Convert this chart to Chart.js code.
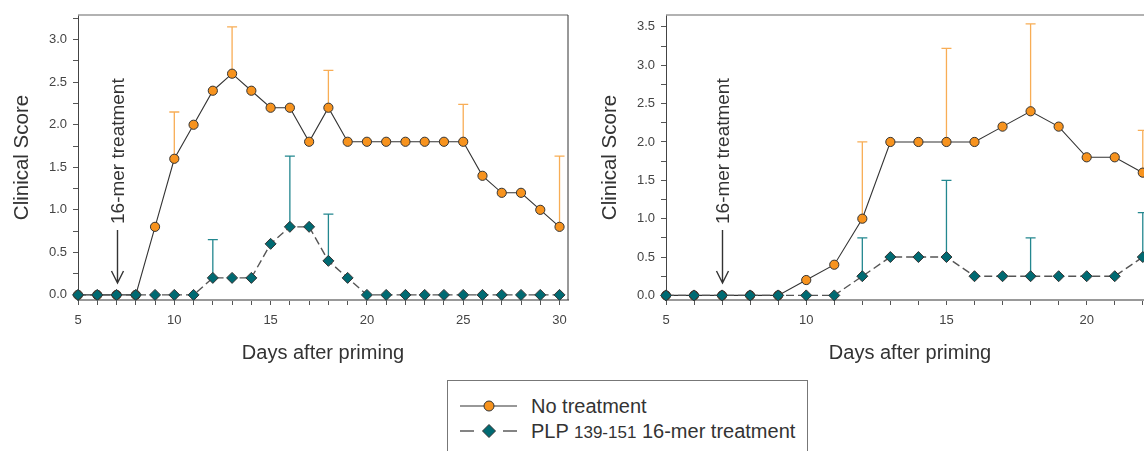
<!DOCTYPE html>
<html>
<head>
<meta charset="utf-8">
<script src="https://cdn.jsdelivr.net/npm/chart.js@4/dist/chart.umd.min.js"></script>
<style>
  html, body { margin: 0; padding: 0; background: #fff; overflow: hidden; width: 1144px; height: 451px; }
  canvas { position: absolute; top: 0; }
  #left { left: 0; }
  #right { left: 588px; }
  #legend {
    position: absolute; left: 447px; top: 380px; width: 361px; height: 90px;
    border: 1px solid #777; box-sizing: border-box;
    font-family: 'Liberation Sans', Arial, sans-serif; color: #333;
  }
  .row { position: absolute; left: 0; height: 24px; }
  .row svg { position: absolute; left: 12px; top: 0; }
  .row span { position: absolute; left: 83px; top: 0; font-size: 20px; line-height: 24px; white-space: nowrap; }
  .row small { font-size: 17px; }
</style>
</head>
<body>
<canvas id="left" width="600" height="380"></canvas>
<canvas id="right" width="600" height="380"></canvas>
<div id="legend">
  <div class="row" style="top:13px">
    <svg width="60" height="24"><line x1="0" y1="12" x2="57" y2="12" stroke="#333" stroke-width="1.2"/><circle cx="29" cy="12" r="5" fill="#f7931e" stroke="#333" stroke-width="1"/></svg>
    <span>No treatment</span>
  </div>
  <div class="row" style="top:38px">
    <svg width="60" height="24"><line x1="0" y1="12" x2="14" y2="12" stroke="#333" stroke-width="1.2"/><line x1="43" y1="12" x2="57" y2="12" stroke="#333" stroke-width="1.2"/><polygon points="29,5.5 35.5,12 29,18.5 22.5,12" fill="#006a72" stroke="#333" stroke-width="1"/></svg>
    <span>PLP <small>139-151</small> 16-mer treatment</span>
  </div>
</div>
<script>
// left panel, days 5-30
const daysLeft = [5, 6, 7, 8, 9, 10, 11, 12, 13, 14, 15, 16, 17, 18, 19, 20, 21, 22, 23, 24, 25, 26, 27, 28, 29, 30];
const noTreatLeft = [0, 0, 0, 0, 0.8, 1.6, 2.0, 2.4, 2.6, 2.4, 2.2, 2.2, 1.8, 2.2, 1.8, 1.8, 1.8, 1.8, 1.8, 1.8, 1.8, 1.4, 1.2, 1.2, 1.0, 0.8];
const noTreatLeftErr = [null, null, null, null, null, 2.15, null, null, 3.15, null, null, null, null, 2.64, null, null, null, null, null, null, 2.24, null, null, null, null, 1.63];
const plpLeft = [0, 0, 0, 0, 0, 0, 0, 0.2, 0.2, 0.2, 0.6, 0.8, 0.8, 0.4, 0.2, 0, 0, 0, 0, 0, 0, 0, 0, 0, 0, 0];
const plpLeftErr = [null, null, null, null, null, null, null, 0.65, null, null, null, 1.63, null, 0.95, null, null, null, null, null, null, null, null, null, null, null, null];

// right panel, days 5-22 (rest is cut off)
const daysRight = [5, 6, 7, 8, 9, 10, 11, 12, 13, 14, 15, 16, 17, 18, 19, 20, 21, 22];
const noTreatRight = [0, 0, 0, 0, 0, 0.2, 0.4, 1.0, 2.0, 2.0, 2.0, 2.0, 2.2, 2.4, 2.2, 1.8, 1.8, 1.6];
const noTreatRightErr = [null, null, null, null, null, null, null, 2.0, null, null, 3.22, null, null, 3.54, null, null, null, 2.15];
const plpRight = [0, 0, 0, 0, 0, 0, 0, 0.25, 0.5, 0.5, 0.5, 0.25, 0.25, 0.25, 0.25, 0.25, 0.25, 0.5];
const plpRightErr = [null, null, null, null, null, null, null, 0.75, null, null, 1.5, null, null, 0.75, null, null, null, 1.08];

const treatmentDay = 7;

Chart.defaults.font.family = "'Liberation Sans', Arial, Helvetica, sans-serif";
Chart.defaults.color = '#444';

const ORANGE = '#f7931e';
const ORANGE_ERR = '#f8ad55';
const TEAL = '#006a72';
const TEAL_ERR = '#23878f';

const errorBars = {
  id: 'errorBars',
  beforeDatasetsDraw(chart) {
    const { ctx } = chart;
    const y = chart.scales.y;
    chart.data.datasets.forEach((ds, i) => {
      if (!ds.errTop) return;
      const meta = chart.getDatasetMeta(i);
      ctx.save();
      ctx.strokeStyle = ds.errColor;
      ctx.lineWidth = 1.3;
      meta.data.forEach((pt, j) => {
        const e = ds.errTop[j];
        if (e == null) return;
        const top = y.getPixelForValue(e);
        ctx.beginPath();
        ctx.moveTo(pt.x, pt.y);
        ctx.lineTo(pt.x, top);
        ctx.moveTo(pt.x - 5, top);
        ctx.lineTo(pt.x + 5, top);
        ctx.stroke();
      });
      ctx.restore();
    });
  }
};

const frameAndNote = {
  id: 'frameAndNote',
  afterDraw(chart) {
    const { ctx, chartArea: a } = chart;
    ctx.save();
    ctx.strokeStyle = '#999';
    ctx.lineWidth = 1.5;
    ctx.beginPath();
    ctx.moveTo(a.left, a.top);
    ctx.lineTo(a.right, a.top);
    ctx.stroke();
    ctx.strokeStyle = '#333';
    ctx.lineWidth = 1;
    ctx.beginPath();
    ctx.moveTo(a.right, a.top);
    ctx.lineTo(a.right, a.bottom);
    ctx.stroke();

    // treatment arrow + rotated label
    const x = Math.round(chart.scales.x.getPixelForValue(treatmentDay)) + 0.5;
    const tip = a.bottom - 17;
    ctx.strokeStyle = '#333';
    ctx.lineWidth = 1.4;
    ctx.beginPath();
    ctx.moveTo(x, a.bottom - 70);
    ctx.lineTo(x, tip);
    ctx.moveTo(x - 6, tip - 12);
    ctx.lineTo(x, tip);
    ctx.lineTo(x + 6, tip - 12);
    ctx.stroke();

    ctx.translate(x + 1, a.bottom - 76);
    ctx.rotate(-Math.PI / 2);
    ctx.fillStyle = '#333';
    ctx.font = "19px 'Liberation Sans', Arial, sans-serif";
    ctx.textAlign = 'left';
    ctx.textBaseline = 'middle';
    ctx.fillText('16-mer treatment', 0, 0);
    ctx.restore();
  }
};

function makePanel(id, days, noTreat, noTreatErr, plp, plpErr, xMax, yMax, padRight) {
  const toXY = arr => arr.map((v, i) => ({ x: days[i], y: v }));
  return new Chart(document.getElementById(id), {
    type: 'line',
    data: {
      datasets: [
        {
          label: 'No treatment',
          data: toXY(noTreat),
          errTop: noTreatErr,
          errColor: ORANGE_ERR,
          borderColor: '#333',
          borderWidth: 1.1,
          pointStyle: 'circle',
          pointRadius: 4.6,
          pointBackgroundColor: ORANGE,
          pointBorderColor: '#333',
          pointBorderWidth: 1,
          clip: false,
          order: 2
        },
        {
          label: 'PLP 139-151 16-mer treatment',
          data: toXY(plp),
          errTop: plpErr,
          errColor: TEAL_ERR,
          borderColor: '#555',
          borderWidth: 1.4,
          borderDash: [8, 4],
          pointStyle: 'rectRot',
          pointRadius: 5.5,
          pointBackgroundColor: TEAL,
          pointBorderColor: '#333',
          pointBorderWidth: 1,
          clip: false,
          order: 1
        }
      ]
    },
    options: {
      responsive: false,
      devicePixelRatio: 1,
      animation: false,
      events: [],
      layout: { padding: { left: 0, top: 15, right: padRight, bottom: 0 } },
      plugins: { legend: { display: false }, tooltip: { enabled: false } },
      scales: {
        x: {
          type: 'linear',
          min: 5,
          max: xMax,
          afterFit(s) { s.height = 80; },
          border: { color: '#999', width: 2 },
          grid: { drawOnChartArea: false, tickLength: 5, tickColor: '#555' },
          ticks: {
            stepSize: 1,
            autoSkip: false,
            includeBounds: false,
            maxRotation: 0,
            padding: 8,
            font: { size: 13 },
            color: '#444',
            callback: v => (v % 5 === 0 ? String(v) : '')
          },
          title: {
            display: true,
            text: 'Days after priming',
            color: '#333',
            font: { size: 20 },
            padding: { top: 0, bottom: 15 }
          }
        },
        y: {
          type: 'linear',
          min: -0.06,
          max: yMax,
          afterFit(s) { s.width = 78; },
          border: { color: '#444', width: 1 },
          grid: { drawOnChartArea: false, tickLength: 5, tickColor: '#555' },
          ticks: {
            stepSize: 0.25,
            autoSkip: false,
            includeBounds: false,
            padding: 6,
            font: { size: 13 },
            color: '#444',
            callback: v => (Math.abs(v * 2 - Math.round(v * 2)) < 1e-6 ? v.toFixed(1) : '')
          },
          title: {
            display: true,
            text: 'Clinical Score',
            color: '#333',
            font: { size: 20.5 },
            padding: { top: 10, bottom: 0 }
          }
        }
      }
    },
    plugins: [errorBars, frameAndNote]
  });
}

makePanel('left', daysLeft, noTreatLeft, noTreatLeftErr, plpLeft, plpLeftErr, 30.44, 3.29, 32);
makePanel('right', daysRight, noTreatRight, noTreatRightErr, plpRight, plpRightErr, 22.4, 3.655, 34);
</script>
</body>
</html>
